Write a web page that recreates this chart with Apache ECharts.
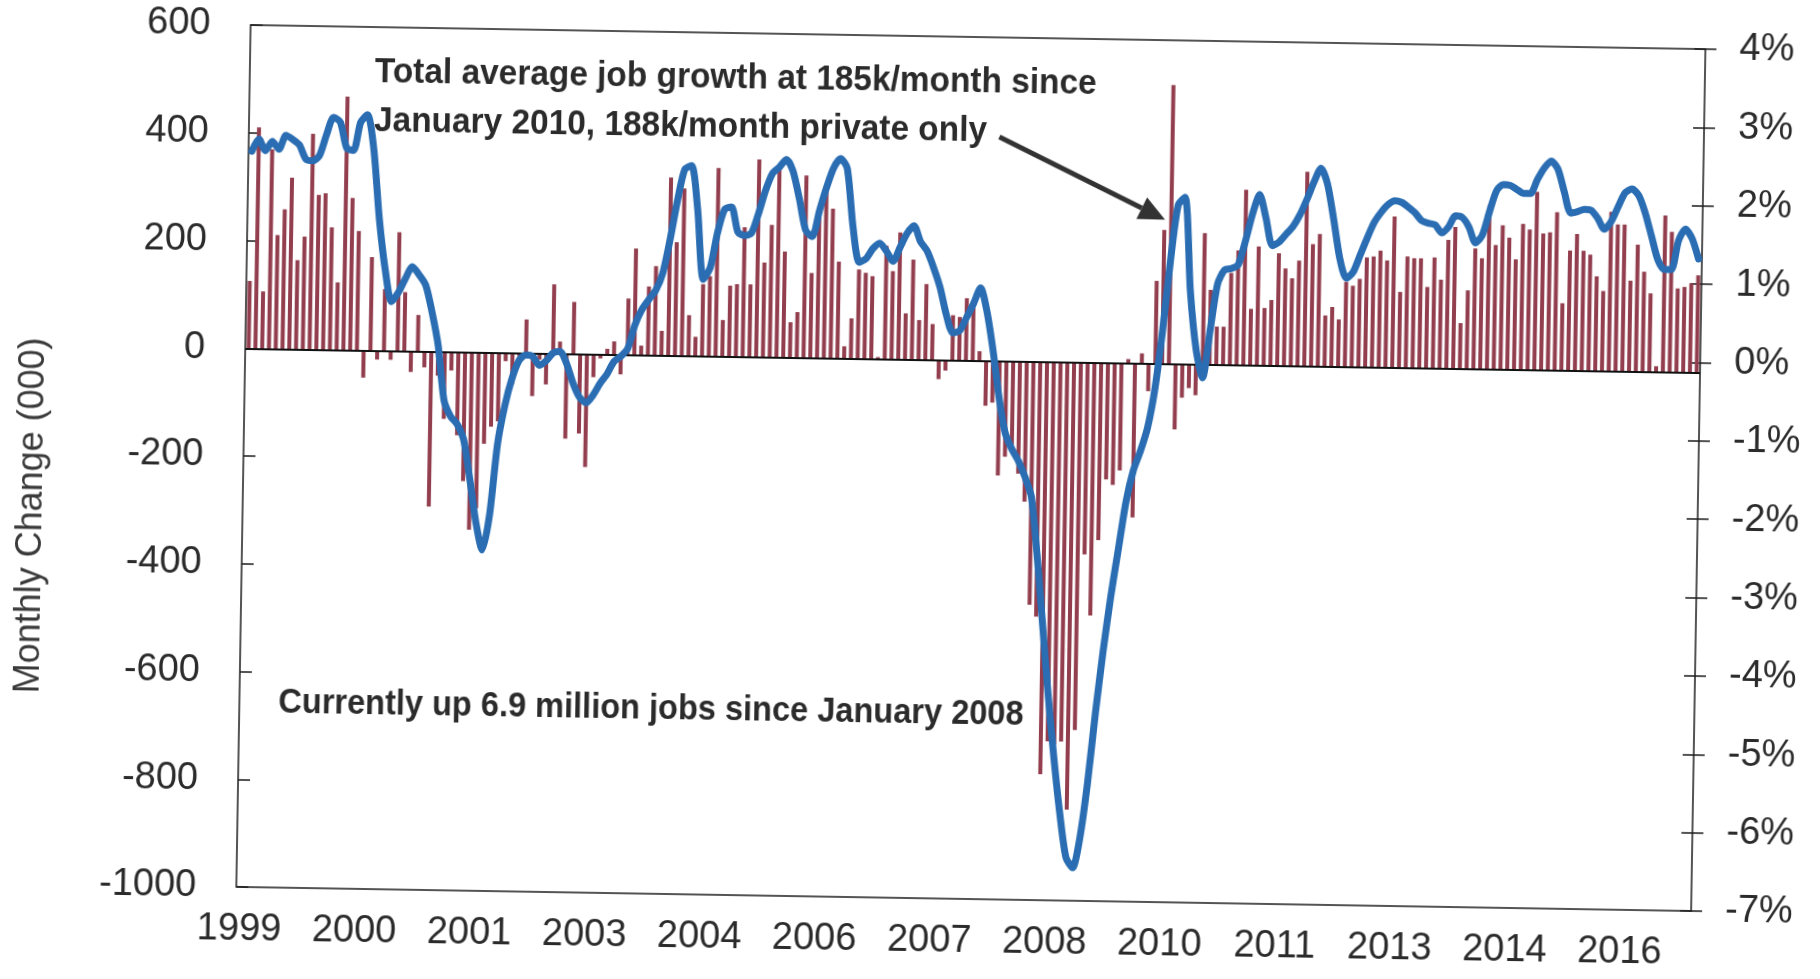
<!DOCTYPE html>
<html>
<head>
<meta charset="utf-8">
<title>Monthly payroll change</title>
<script src="https://cdn.jsdelivr.net/npm/echarts@6/dist/echarts.min.js"></script>
<style>
  html, body { margin: 0; padding: 0; background: #ffffff; overflow: hidden; }
  #chart { width: 1820px; height: 979px; transform: rotate(0.95deg); transform-origin: 50% 50%; }
</style>
</head>
<body>
<div id="chart"></div>
<script>
// Monthly change in nonfarm payrolls, thousands (Jan 1999 - Nov 2016)
const monthlyChange = [
  125, 410, 106, 370, 211, 259, 318, 165, 209, 400, 287, 290,          // 1999
  227, 125, 470, 282, 221, -51, 173, -17, 114, -17, 220, 109,          // 2000
  -39, 67, -30, -288, -45, -125, -35, -155, -240, -330, -290, -170,    // 2001
  -138, -128, -16, -59, -6, 62, -80, -12, -58, 128, 22, -158,          // 2002
  96, -148, -210, -43, -8, 10, 24, -37, 104, 197, 17, 127,             // 2003
  165, 45, 330, 210, 310, 75, 35, 133, 148, 349, 67, 131,              // 2004
  134, 240, 134, 366, 175, 245, 352, 196, 65, 84, 338, 157,            // 2005
  272, 308, 277, 179, 22, 74, 165, 159, 153, 3, 210, 163,              // 2006
  235, 85, 185, 73, 140, 66, -36, -20, 83, 80, 115, 97,                // 2007
  17, -84, -78, -213, -178, -165, -209, -261, -452, -474, -766, -705,  // 2008
  -710, -705, -831, -683, -357, -470, -330, -217, -227, -200, 7, -287, // 2009
  18, -52, 153, 248, 517, -122, -63, -45, -58, 243, 138, 70,           // 2010
  70, 170, 212, 325, 104, 220, 106, 121, 208, 180, 162, 195,           // 2011
  360, 226, 245, 94, 110, 87, 157, 150, 163, 203, 205, 216,            // 2012
  198, 280, 140, 206, 203, 203, 150, 205, 164, 238, 262, 84,           // 2013
  145, 223, 205, 304, 230, 267, 244, 204, 270, 260, 330, 253,          // 2014
  255, 293, 124, 222, 253, 222, 215, 175, 148, 295, 272, 272,          // 2015
  168, 235, 185, 145, 10, 290, 260, 155, 158, 165, 180                 // 2016
];

// Annualized payroll growth rate, percent (right axis)
const growthRate = [
  2.39, 2.55, 2.40, 2.52, 2.42, 2.60, 2.55, 2.48, 2.30, 2.28, 2.35, 2.62,          // 1999
  2.84, 2.78, 2.45, 2.42, 2.78, 2.88, 2.45, 1.55, 0.90, 0.50, 0.62, 0.80,          // 2000
  0.95, 0.85, 0.72, 0.38, -0.05, -0.75, -0.95, -1.05, -1.25, -1.75, -2.30, -2.65,  // 2001
  -2.20, -1.30, -0.80, -0.45, -0.22, -0.15, -0.17, -0.28, -0.22, -0.12, -0.10, -0.25, // 2002
  -0.50, -0.68, -0.75, -0.65, -0.50, -0.38, -0.22, -0.15, -0.05, 0.25, 0.45, 0.58, // 2003
  0.70, 0.92, 1.35, 1.85, 2.25, 2.30, 1.75, 0.85, 1.00, 1.45, 1.75, 1.78,          // 2004
  1.46, 1.42, 1.45, 1.70, 2.00, 2.22, 2.30, 2.40, 2.25, 1.90, 1.50, 1.42,          // 2005
  1.75, 2.05, 2.30, 2.42, 2.30, 1.55, 1.10, 1.15, 1.28, 1.35, 1.25, 1.12,          // 2006
  1.30, 1.48, 1.58, 1.38, 1.26, 1.05, 0.80, 0.45, 0.22, 0.25, 0.42, 0.60,          // 2007
  0.80, 0.50, 0.00, -0.60, -1.05, -1.25, -1.40, -1.60, -1.85, -2.60, -3.50, -4.40, // 2008
  -5.20, -5.90, -6.45, -6.58, -6.20, -5.50, -4.60, -3.80, -3.10, -2.50, -1.90, -1.50, // 2009
  -1.25, -0.95, -0.45, 0.30, 1.20, 1.90, 2.00, 0.80, 0.05, -0.30, 0.30, 0.90,      // 2010
  1.08, 1.10, 1.15, 1.45, 1.80, 2.05, 1.75, 1.40, 1.45, 1.55, 1.65, 1.80,          // 2011
  2.00, 2.22, 2.40, 2.20, 1.75, 1.25, 1.00, 1.08, 1.30, 1.52, 1.72, 1.85,          // 2012
  1.95, 2.00, 1.98, 1.92, 1.85, 1.75, 1.72, 1.70, 1.60, 1.68, 1.82, 1.80,          // 2013
  1.68, 1.48, 1.58, 1.88, 2.15, 2.23, 2.22, 2.17, 2.12, 2.12, 2.30, 2.45,          // 2014
  2.54, 2.44, 2.15, 1.88, 1.90, 1.93, 1.92, 1.82, 1.68, 1.78, 1.97, 2.15,          // 2015
  2.20, 2.12, 1.90, 1.60, 1.30, 1.18, 1.18, 1.55, 1.70, 1.58, 1.32                 // 2016
];

// One category per month, starting January 1999
const months = [];
for (let i = 0; i < monthlyChange.length; i++) {
  const y = 1999 + Math.floor(i / 12);
  const m = (i % 12) + 1;
  months.push(y + '-' + (m < 10 ? '0' + m : m));
}

const labelStep = 17;            // a year label every 17 months
const arrowMonth = '2010-06';    // the callout arrow points at the line near this month

const noteTop = [
  'Total average job growth at 185k/month since',
  'January 2010, 188k/month private only'
];
const noteBottom = 'Currently up 6.9 million jobs since January 2008';

const FONT = '"Liberation Sans", Arial, Helvetica, sans-serif';
const TEXT = '#2b2b2b';

const chart = echarts.init(document.getElementById('chart'), null, { renderer: 'canvas' });

chart.setOption({
  animation: false,
  backgroundColor: '#ffffff',
  grid: {
    left: 243, right: 122, top: 36, bottom: 81,
    show: true, borderColor: '#1c1c1c', borderWidth: 1.5, backgroundColor: 'transparent'
  },
  xAxis: {
    type: 'category',
    data: months,
    boundaryGap: true,
    axisLine: { show: false },
    axisTick: { show: false },
    axisLabel: {
      interval: labelStep - 1,
      margin: 24,
      fontFamily: FONT, fontSize: 38, color: TEXT,
      formatter: v => v.slice(0, 4)
    },
    splitLine: { show: false }
  },
  yAxis: [
    {
      type: 'value', position: 'left',
      min: -1000, max: 600, interval: 200,
      axisLine: { show: false },
      axisTick: { show: true, inside: true, length: 12, lineStyle: { color: '#1c1c1c', width: 1.5 } },
      axisLabel: { margin: 40, fontFamily: FONT, fontSize: 38, color: TEXT, formatter: v => String(v) },
      splitLine: { show: false }
    },
    {
      type: 'value', position: 'right',
      min: -7, max: 4, interval: 1,
      axisLine: { show: false },
      axisTick: { show: true, inside: false, length: 11, lineStyle: { color: '#1c1c1c', width: 1.5 } },
      axisLabel: { margin: 34, fontFamily: FONT, fontSize: 38, color: TEXT, formatter: '{value}%' },
      splitLine: { show: false }
    },
    {
      type: 'value', position: 'right',
      min: -7, max: 4, interval: 1,
      axisLine: { show: false },
      axisTick: { show: true, inside: true, length: 11, lineStyle: { color: '#1c1c1c', width: 1.5 } },
      axisLabel: { show: false },
      splitLine: { show: false }
    }
  ],
  series: [
    {
      name: 'Monthly change',
      type: 'bar',
      yAxisIndex: 0,
      data: monthlyChange,
      barWidth: 4,
      itemStyle: { color: '#923e4e' },
      markLine: {
        silent: true,
        symbol: ['none', 'none'],
        label: { show: false },
        lineStyle: { color: '#111111', width: 2, type: 'solid' },
        data: [{ yAxis: 0 }]
      }
    },
    {
      name: 'Growth rate',
      type: 'line',
      yAxisIndex: 1,
      data: growthRate,
      showSymbol: false,
      smooth: 0.25,
      lineStyle: { color: '#2a6db2', width: 7, cap: 'round', join: 'round' },
      z: 5
    }
  ]
});

// Callouts: text notes plus an arrow whose head touches the growth line
const tipIdx = months.indexOf(arrowMonth);
const tip = chart.convertToPixel({ xAxisIndex: 0, yAxisIndex: 1 }, [tipIdx, growthRate[tipIdx]]);
const tx = tip[0] - 13, ty = tip[1] + 15;
const sx = tx - 167, sy = ty - 80;
const len = Math.hypot(tx - sx, ty - sy);
const dx = (tx - sx) / len, dy = (ty - sy) / len;
const headLen = 26, headHalf = 12;
const bx = tx - dx * headLen, by = ty - dy * headLen;

const noteFont = 'bold 35px ' + FONT;

chart.setOption({
  graphic: [
    {
      type: 'text', x: 32, y: 530, rotation: Math.PI / 2,
      style: { text: 'Monthly Change (000)', font: '36px ' + FONT, fill: '#3a3a3a', align: 'center', verticalAlign: 'middle' }
    },
    {
      type: 'text', x: 368, y: 81, scaleX: 0.955,
      style: { text: noteTop[0], font: noteFont, fill: TEXT, align: 'left', verticalAlign: 'middle' }
    },
    {
      type: 'text', x: 368, y: 130, scaleX: 0.955,
      style: { text: noteTop[1], font: noteFont, fill: TEXT, align: 'left', verticalAlign: 'middle' }
    },
    {
      type: 'text', x: 282, y: 713, scaleX: 0.93,
      style: { text: noteBottom, font: noteFont, fill: TEXT, align: 'left', verticalAlign: 'middle' }
    },
    {
      type: 'line', z: 10,
      shape: { x1: sx, y1: sy, x2: bx, y2: by },
      style: { stroke: '#333333', lineWidth: 5 }
    },
    {
      type: 'polygon', z: 10,
      shape: { points: [[tx, ty], [bx - dy * headHalf, by + dx * headHalf], [bx + dy * headHalf, by - dx * headHalf]] },
      style: { fill: '#333333' }
    }
  ]
});
</script>
</body>
</html>
